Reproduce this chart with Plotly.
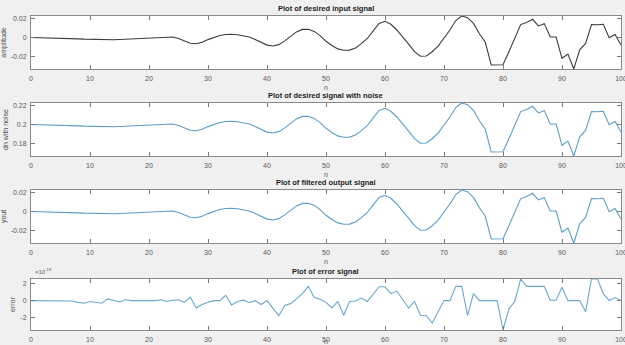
import plotly.graph_objects as go

n = list(range(101))

desired = [
    0.0000, -0.0001, -0.0003, -0.0005, -0.0006, -0.0005, -0.0007, -0.0010, -0.0014, -0.0017,
    -0.0019, -0.0021, -0.0022, -0.0023, -0.0024, -0.0021, -0.0018, -0.0014, -0.0010, -0.0006,
    -0.0002, 0.0002, 0.0005, 0.0007, 0.0006, -0.0010, -0.0038, -0.0060, -0.0066, -0.0050,
    -0.0022, 0.0003, 0.0022, 0.0032, 0.0035, 0.0030, 0.0020, 0.0005, -0.0020, -0.0050,
    -0.0080, -0.0090, -0.0075, -0.0035, 0.0015, 0.0060, 0.0086, 0.0088, 0.0065, 0.0020,
    -0.0040, -0.0085, -0.0120, -0.0135, -0.0133, -0.0110, -0.0065, -0.0010, 0.0070, 0.0150,
    0.0172, 0.0140, 0.0080, 0.0010, -0.0070, -0.0150, -0.0198, -0.0195, -0.0150, -0.0090,
    -0.0010, 0.0080, 0.0180, 0.0228, 0.0210, 0.0150, 0.0040, -0.0050, -0.0290, -0.0290,
    -0.0288, -0.0150, 0.0000, 0.0137, 0.0160, 0.0193, 0.0123, 0.0147, 0.0007, 0.0005,
    -0.0220, -0.0175, -0.0333, -0.0130, -0.0063, 0.0137, 0.0135, 0.0140, -0.0003, 0.0032,
    -0.0080,
]

dn_noise = [
    0.2000, 0.1999, 0.1997, 0.1995, 0.1994, 0.1995, 0.1993, 0.1990, 0.1986, 0.1983,
    0.1981, 0.1979, 0.1978, 0.1977, 0.1976, 0.1979, 0.1982, 0.1986, 0.1990, 0.1994,
    0.1998, 0.2002, 0.2005, 0.2007, 0.2006, 0.1990, 0.1962, 0.1940, 0.1934, 0.1950,
    0.1978, 0.2003, 0.2022, 0.2032, 0.2035, 0.2030, 0.2020, 0.2005, 0.1980, 0.1950,
    0.1920, 0.1910, 0.1925, 0.1965, 0.2015, 0.2060, 0.2086, 0.2088, 0.2065, 0.2020,
    0.1960, 0.1915, 0.1880, 0.1865, 0.1867, 0.1890, 0.1935, 0.1990, 0.2070, 0.2150,
    0.2172, 0.2140, 0.2080, 0.2010, 0.1930, 0.1850, 0.1802, 0.1805, 0.1850, 0.1910,
    0.1990, 0.2080, 0.2180, 0.2228, 0.2210, 0.2150, 0.2040, 0.1950, 0.1710, 0.1710,
    0.1712, 0.1850, 0.2000, 0.2137, 0.2160, 0.2193, 0.2123, 0.2147, 0.2007, 0.2005,
    0.1780, 0.1825, 0.1667, 0.1870, 0.1937, 0.2137, 0.2135, 0.2140, 0.1997, 0.2032,
    0.1920,
]

yout = [
    0.0000, -0.0001, -0.0003, -0.0005, -0.0006, -0.0005, -0.0007, -0.0010, -0.0014, -0.0017,
    -0.0019, -0.0021, -0.0022, -0.0023, -0.0024, -0.0021, -0.0018, -0.0014, -0.0010, -0.0006,
    -0.0002, 0.0002, 0.0005, 0.0007, 0.0006, -0.0010, -0.0038, -0.0060, -0.0066, -0.0050,
    -0.0022, 0.0003, 0.0022, 0.0032, 0.0035, 0.0030, 0.0020, 0.0005, -0.0020, -0.0050,
    -0.0080, -0.0090, -0.0075, -0.0035, 0.0015, 0.0060, 0.0086, 0.0088, 0.0065, 0.0020,
    -0.0040, -0.0085, -0.0120, -0.0135, -0.0133, -0.0110, -0.0065, -0.0010, 0.0070, 0.0150,
    0.0172, 0.0140, 0.0080, 0.0010, -0.0070, -0.0150, -0.0198, -0.0195, -0.0150, -0.0090,
    -0.0010, 0.0080, 0.0180, 0.0228, 0.0210, 0.0150, 0.0040, -0.0050, -0.0290, -0.0290,
    -0.0288, -0.0150, 0.0000, 0.0137, 0.0160, 0.0193, 0.0123, 0.0147, 0.0007, 0.0005,
    -0.0220, -0.0175, -0.0333, -0.0130, -0.0063, 0.0137, 0.0135, 0.0140, -0.0003, 0.0032,
    -0.0080,
]

# error signal, in units of 1e-18
error_e18 = [
    0, 0, 0, 0, 0, 0, 0, -0.05, -0.2, -0.3,
    -0.1, -0.2, -0.3, 0.2, 0, -0.15, 0.1, 0, 0, 0,
    0.05, 0, 0.1, -0.1, 0.05, 0.1, -0.2, 0.4, -0.85, -0.45,
    -0.2, 0, 0, 0.6, -0.5, -0.1, 0.05, -0.25, 0, -0.45,
    0, -0.85, -1.75, -0.55, -0.35, 0.2, 0.8, 1.65, 0.35, 0.15,
    -0.2, -0.85, -0.1, -1.7, -0.1, -0.05, 0.3, -0.1, 0.8, 1.6,
    1.6, 0.8, 1.1, 0.1, -0.85, -0.1, -1.7, -1.75, -2.6, -1.3,
    0, 0, 1.65, 1.65, -1.7, 0.8, 0, 0, 0, 0,
    -3.4, -0.95, -0.1, 2.5, 1.65, 1.65, 1.65, 1.65, 0.05, 0.05,
    1.55, 0, 0, 0, -1.3, 2.5, 2.5, 0.8, 0, 0.35,
    0,
]

titles = ["Plot of desired input signal", "Plot of desired signal with noise",
          "Plot of filtered output signal", "Plot of error signal"]
ylabels = ["amplitude", "dn with noise", "yout", "error"]
xticks = [0, 10, 20, 30, 40, 50, 60, 70, 80, 90, 100]
yticks = [[-0.02, 0, 0.02], [0.18, 0.2, 0.22], [-0.02, 0, 0.02], [-2, 0, 2]]
yticktext = [["-0.02", "0", "0.02"], ["0.18", "0.2", "0.22"], ["-0.02", "0", "0.02"], ["-2", "0", "2"]]

series = [desired, dn_noise, yout, error_e18]
colors = ["#3c3c3c", "#5c9ec6", "#5c9ec6", "#6aa8cc"]

W, H = 625, 345
x0, x1 = 31, 621
rows_px = [(16, 69), (103, 156), (190, 243), (279, 330)]

fig = go.Figure()
font = "Liberation Sans, Arial, sans-serif"
for i in range(4):
    ax = "" if i == 0 else str(i + 1)
    fig.add_trace(go.Scatter(x=n, y=series[i], mode="lines",
                             line=dict(color=colors[i], width=1.1),
                             xaxis="x" + ax, yaxis="y" + ax, showlegend=False))
    top, bot = rows_px[i]
    dom = [1 - bot / H, 1 - top / H]
    common = dict(showline=True, linecolor="#8a8a8a", linewidth=1, mirror="ticks",
                  ticks="inside", ticklen=4, tickcolor="#7a7a7a", showgrid=False,
                  zeroline=False, automargin=False,
                  tickfont=dict(family=font, size=7, color="#5a5a5a"))
    fig.layout["xaxis" + ax] = dict(domain=[x0 / W, x1 / W], anchor="y" + ax,
                                    range=[0, 100], tickvals=xticks,
                                    ticklabeloverflow="allow", ticklabelstandoff=3,
                                    title=dict(text="n", font=dict(family=font, size=7, color="#5a5a5a"), standoff=3),
                                    **common)
    ymin, ymax = min(series[i]), max(series[i])
    fig.layout["yaxis" + ax] = dict(domain=dom, anchor="x" + ax,
                                    range=[ymin, ymax], tickvals=yticks[i], ticktext=yticktext[i],
                                    ticklabelstandoff=2,
                                    title=dict(text=ylabels[i], font=dict(family=font, size=7, color="#4a4a4a"), standoff=3),
                                    **common)
    fig.add_annotation(text="<b>" + titles[i] + "</b>", xref="paper", yref="paper",
                       x=(x0 + x1) / 2 / W, y=1 - (top - 1) / H, xanchor="center", yanchor="bottom",
                       showarrow=False, font=dict(family=font, size=7.5, color="#222222"))

fig.add_annotation(text="\u00d710<sup>-18</sup>", xref="paper", yref="paper",
                   x=33 / W, y=1 - 277 / H, xanchor="left", yanchor="bottom",
                   showarrow=False, font=dict(family=font, size=6, color="#5a5a5a"))

fig.add_annotation(text="<b>without</b>", xref="paper", yref="paper",
                   x=0, y=1 - 6 / H, xanchor="left", yanchor="bottom",
                   showarrow=False, font=dict(family="Liberation Serif, serif", size=18, color="#000000"))

fig.update_layout(width=W, height=H, margin=dict(l=0, r=0, t=0, b=0),
                  paper_bgcolor="#f0f0f0", plot_bgcolor="#ffffff")

fig.write_html("out.html")
